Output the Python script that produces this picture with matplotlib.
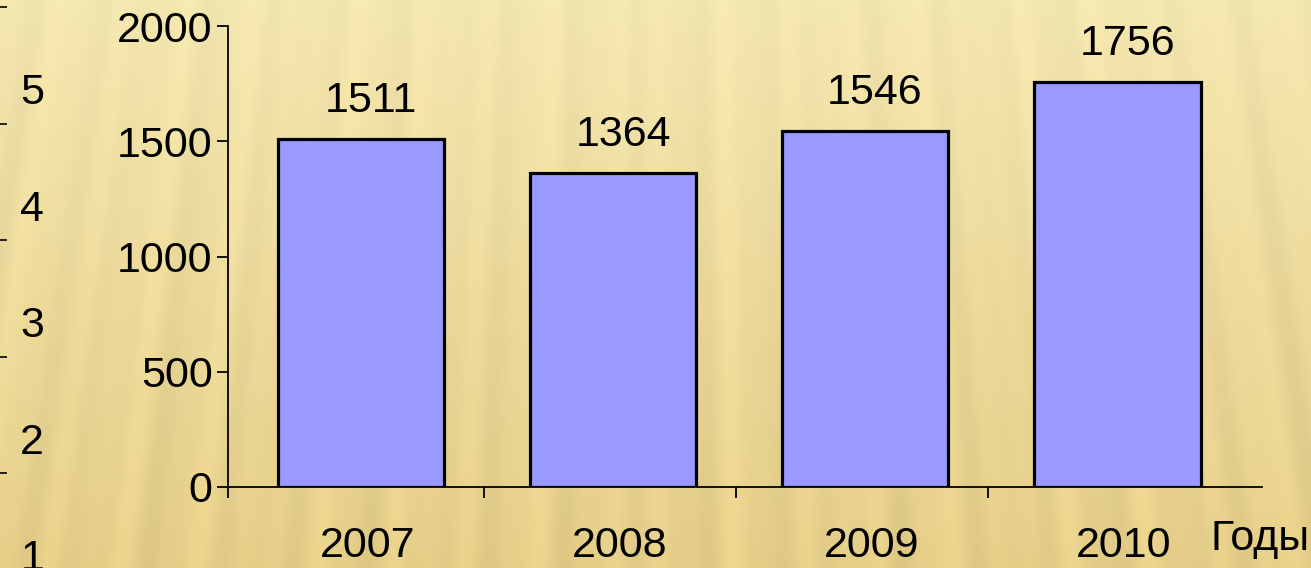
import numpy as np
import matplotlib
matplotlib.use("Agg")
import matplotlib.pyplot as plt
from matplotlib.transforms import ScaledTranslation

plt.rcParams['font.family'] = ['Liberation Sans', 'DejaVu Sans']

# data
years = ['2007', '2008', '2009', '2010']
values = [1511, 1364, 1546, 1756]
y_ticks = [0, 500, 1000, 1500, 2000]
side_labels = ['1', '2', '3', '4', '5']

W, H, DPI = 1311, 568, 100
fig = plt.figure(figsize=(W / DPI, H / DPI), dpi=DPI)

# golden streaky backdrop
yy, xx = np.mgrid[0:H, 0:W].astype(float)
t = yy / H
top = np.array([244, 231, 176]) / 255.0
bot = np.array([229, 206, 136]) / 255.0
base = top[None, None, :] * (1 - t[..., None]) + bot[None, None, :] * t[..., None]
ang = np.arctan2(xx - W / 2, yy + 4000)
streak = (0.45 * np.sin(ang * 420 + 0.4) + 0.30 * np.sin(ang * 760 + 1.7)
          + 0.25 * np.sin(ang * 270 + 2.9))
streak *= 0.03 * (0.6 + 0.6 * t)
bg = np.clip(base + streak[..., None] * np.array([1.0, 0.95, 0.7]), 0, 1)
ax_bg = fig.add_axes([0, 0, 1, 1], zorder=-5)
ax_bg.imshow(bg, aspect='auto', interpolation='bilinear')
ax_bg.axis('off')

# main bar chart
ax = fig.add_axes([228 / W, 81 / H, 1034 / W, 461 / H])
ax.patch.set_alpha(0)
x = np.arange(len(years))
ax.bar(x + 0.015, values, width=0.66, color='#9999FF', edgecolor='black',
       linewidth=2.3, zorder=3)
ax.set_xlim(-0.514, 3.589)
ax.set_ylim(0, 2000)
ax.set_yticks(y_ticks)
ax.tick_params(axis='y', direction='out', length=8, width=1.3, pad=3,
               labelsize=31)
for s in ['top', 'right']:
    ax.spines[s].set_visible(False)
for s in ['left', 'bottom']:
    ax.spines[s].set_linewidth(1.3)

ax.set_xticks([-0.514, 0.5, 1.5, 2.5])
ax.set_xticklabels([])
ax.tick_params(axis='x', which='major', direction='out', length=8, width=1.3)
ax.set_xticks(x, minor=True)
ax.set_xticklabels(years, minor=True)
ax.tick_params(axis='x', which='minor', length=0, pad=28, labelsize=31)
shift = ScaledTranslation(10 / DPI, 0, fig.dpi_scale_trans)
for lab in ax.get_xticklabels(minor=True):
    lab.set_transform(lab.get_transform() + shift)

for xi, v in zip(x, values):
    ax.annotate(str(v), (xi + 0.015, v), xytext=(7, 19.5),
                textcoords='offset points', ha='center', va='baseline',
                fontsize=31)

ax.set_xlabel('Годы', fontsize=31)
ax.xaxis.set_label_coords(0.95, -0.137)
ax.xaxis.label.set_ha('left')
ax.xaxis.label.set_va('baseline')

# cut-off axis on the left edge
ax_l = fig.add_axes([0, 0, 5 / W, 1])
ax_l.patch.set_alpha(0)
ax_l.set_xlim(0, 1)
ax_l.set_ylim(0.888, 5.764)
for s in ax_l.spines.values():
    s.set_visible(False)
ax_l.set_xticks([])
k = np.arange(1, len(side_labels) + 1)
ax_l.set_yticks(k + 0.7)
ax_l.set_yticklabels([])
ax_l.tick_params(axis='y', which='major', direction='in', length=5, width=1.2)
ax_l.set_yticks(k, minor=True)
ax_l.set_yticklabels(side_labels, minor=True)
ax_l.tick_params(axis='y', which='minor', length=0, left=False,
                 labelleft=False, labelright=True, pad=11, labelsize=31)

fig.savefig('out.png', dpi=DPI)
